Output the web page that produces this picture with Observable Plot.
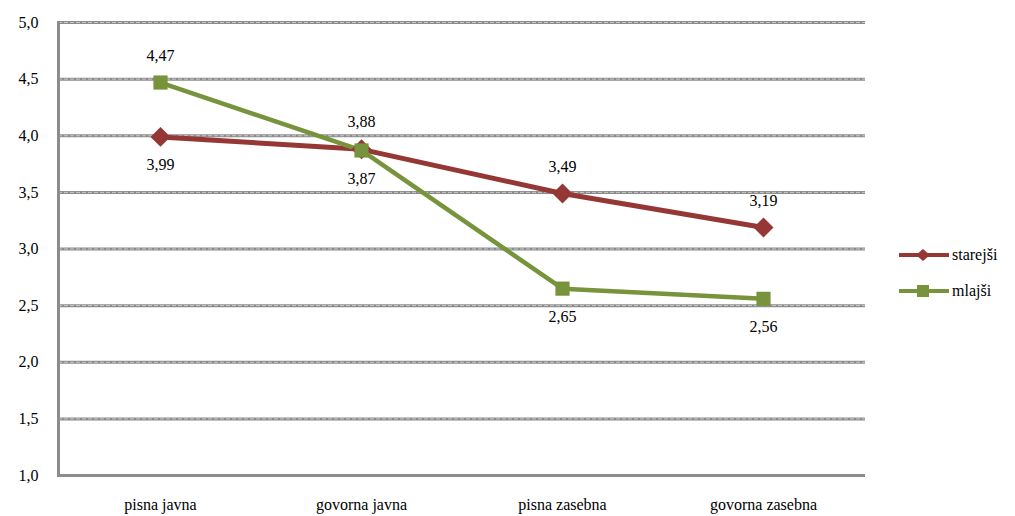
<!DOCTYPE html>
<html>
<head>
<meta charset="utf-8">
<script src="https://cdn.jsdelivr.net/npm/d3@7"></script>
<script src="https://cdn.jsdelivr.net/npm/@observablehq/plot@0.6"></script>
<style>
  html, body { margin: 0; padding: 0; background: #fff; }
  body, svg, text, span, div { font-family: "Liberation Serif", serif; }
  #wrap { position: relative; width: 1015px; height: 516px; }
  #legend { position: absolute; left: 899px; top: 237px; font-size: 16px; color: #000; }
  #legend .row { display: flex; align-items: center; height: 36px; }
  #legend span { margin-left: 3px; }
</style>
</head>
<body>
<div id="wrap"></div>
<script>
const categories = ["pisna javna", "govorna javna", "pisna zasebna", "govorna zasebna"];
const seriesNames = ["starejši", "mlajši"];
const starejsi = [3.99, 3.88, 3.49, 3.19];
const mlajsi = [4.47, 3.87, 2.65, 2.56];
const labelPos = { "starejši": ["below", "above", "above", "above"], "mlajši": ["above", "below", "below", "below"] };
const yTicks = [1.0, 1.5, 2.0, 2.5, 3.0, 3.5, 4.0, 4.5, 5.0];
const colors = { "starejši": "#953735", "mlajši": "#77933C" };

const data = [];
categories.forEach((c, i) => {
  data.push({ cat: c, series: "starejši", value: starejsi[i], pos: labelPos["starejši"][i] });
  data.push({ cat: c, series: "mlajši", value: mlajsi[i], pos: labelPos["mlajši"][i] });
});
const fmt = (d, n) => d.toFixed(n).replace(".", ",");
const gridTicks = yTicks.filter(t => t > 1.0);
const serif = "Liberation Serif";

const chart = Plot.plot({
  width: 1015,
  height: 516,
  marginLeft: 58,
  marginRight: 150,
  marginTop: 22,
  marginBottom: 41,
  style: "font-family: 'Liberation Serif', serif; font-size: 16px; color: #000; background: #fff;",
  x: { type: "point", domain: categories, padding: 0.5, label: null },
  y: { domain: [1, 5], label: null },
  marks: [
    Plot.ruleY(gridTicks, { stroke: "#8c8c8c", strokeWidth: 3 }),
    Plot.ruleY(gridTicks, { stroke: "#c8c8c8", strokeWidth: 1, strokeDasharray: "4,2" }),
    Plot.ruleY([1.0], { stroke: "#8c8c8c", strokeWidth: 3 }),
    Plot.frame({ anchor: "left", stroke: "#8c8c8c", strokeWidth: 3 }),
    Plot.axisY({ ticks: yTicks, tickFormat: d => fmt(d, 1), tickSize: 0, tickPadding: 20, fontSize: 16, fontFamily: serif }),
    Plot.axisX({ tickSize: 0, tickPadding: 23, fontSize: 16, fontFamily: serif }),
    Plot.line(data, { x: "cat", y: "value", z: "series", stroke: d => colors[d.series], strokeWidth: d => d.series === "starejši" ? 5 : 4.5 }),
    Plot.dot(data.filter(d => d.series === "starejši"), { x: "cat", y: "value", symbol: "diamond2", r: 9, fill: colors["starejši"], stroke: null }),
    Plot.dot(data.filter(d => d.series === "mlajši"), { x: "cat", y: "value", symbol: "square", r: 8, fill: colors["mlajši"], stroke: null }),
    Plot.text(data.filter(d => d.pos === "above"), { x: "cat", y: "value", text: d => fmt(d.value, 2), dy: -27, fontSize: 16, fontFamily: serif, fill: "#000" }),
    Plot.text(data.filter(d => d.pos === "below"), { x: "cat", y: "value", text: d => fmt(d.value, 2), dy: 28, fontSize: 16, fontFamily: serif, fill: "#000" })
  ]
});
chart.querySelectorAll("text, tspan").forEach(t => {
  t.style.setProperty("font-family", "'Liberation Serif', serif", "important");
});
const wrap = document.getElementById("wrap");
wrap.appendChild(chart);

const leg = document.createElement("div");
leg.id = "legend";
seriesNames.forEach(s => {
  const row = document.createElement("div");
  row.className = "row";
  const marker = s === "starejši"
    ? `<polygon points="24,1 31,7 24,13 17,7" fill="${colors[s]}"/>`
    : `<rect x="18" y="1" width="12" height="12" fill="${colors[s]}"/>`;
  row.innerHTML = `<svg width="50" height="14" style="display:block"><line x1="0" y1="7" x2="50" y2="7" stroke="${colors[s]}" stroke-width="4"/>${marker}</svg><span>${s}</span>`;
  leg.appendChild(row);
});
wrap.appendChild(leg);
</script>
</body>
</html>
